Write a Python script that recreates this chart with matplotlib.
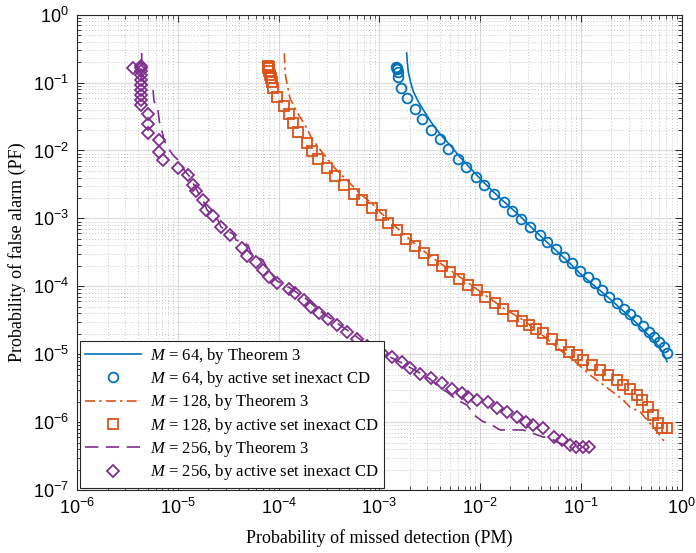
import numpy as np
import matplotlib
matplotlib.use("Agg")
import matplotlib.pyplot as plt
from matplotlib.ticker import FixedLocator, FuncFormatter, NullFormatter

plt.rcParams['mathtext.fontset'] = 'custom'
plt.rcParams['mathtext.rm'] = 'Liberation Serif'
plt.rcParams['mathtext.it'] = 'Liberation Serif:italic'

# values, stored as log10(PM) / log10(PF)
# M = 64
log_pm64_thm = [-2.729, -2.723, -2.713, -2.691, -2.661, -2.617, -2.557, -2.488, -2.398, -2.299,
                -2.200, -2.100, -2.001, -1.902, -1.803, -1.704, -1.604, -1.505, -1.405, -1.306,
                -1.207, -1.107, -1.008, -0.909, -0.809, -0.710, -0.611, -0.511, -0.412, -0.313,
                -0.233, -0.184, -0.144]
log_pf64_thm = [-0.564, -0.697, -0.844, -0.991, -1.138, -1.271, -1.418, -1.580, -1.757, -1.919,
                -2.096, -2.258, -2.412, -2.560, -2.700, -2.832, -2.965, -3.112, -3.252, -3.392,
                -3.524, -3.664, -3.812, -3.937, -4.062, -4.187, -4.320, -4.452, -4.592, -4.739,
                -4.872, -4.975, -5.108]
log_pm64_cd = [-2.835, -2.830, -2.828, -2.818, -2.812, -2.785, -2.723, -2.644, -2.574, -2.491,
               -2.398, -2.319, -2.216, -2.140, -2.041, -1.958, -1.862, -1.766, -1.683, -1.594,
               -1.504, -1.405, -1.333, -1.249, -1.167, -1.084, -1.008, -0.932, -0.859, -0.792,
               -0.720, -0.644, -0.571, -0.512, -0.452, -0.385, -0.323, -0.270, -0.223, -0.174,
               -0.141]
log_pf64_cd = [-0.765, -0.785, -0.800, -0.839, -0.913, -1.075, -1.231, -1.389, -1.536, -1.698,
               -1.835, -1.973, -2.130, -2.247, -2.395, -2.513, -2.645, -2.763, -2.887, -3.009,
               -3.131, -3.244, -3.352, -3.455, -3.564, -3.661, -3.770, -3.859, -3.956, -4.054,
               -4.153, -4.250, -4.339, -4.408, -4.496, -4.585, -4.669, -4.751, -4.825, -4.898,
               -4.978]

# M = 128
log_pm128_thm = [-3.944, -3.937, -3.921, -3.888, -3.821, -3.739, -3.672, -3.573, -3.441, -3.309,
                 -3.176, -3.076, -2.984, -2.825, -2.647, -2.471, -2.299, -2.117, -1.951, -1.770,
                 -1.587, -1.405, -1.207, -1.074, -0.909, -0.743, -0.578, -0.511, -0.412, -0.313,
                 -0.230, -0.164]
log_pf128_thm = [-0.568, -0.859, -0.987, -1.231, -1.429, -1.624, -1.820, -2.018, -2.262, -2.459,
                 -2.655, -2.778, -2.920, -3.141, -3.377, -3.583, -3.760, -3.951, -4.128, -4.320,
                 -4.482, -4.688, -4.938, -5.085, -5.306, -5.488, -5.675, -5.782, -5.847, -6.018,
                 -6.165, -6.303]
log_pm128_cd = [-4.105, -4.100, -4.103, -4.096, -4.086, -4.076, -4.070, -4.054, -4.014, -3.947,
                -3.898, -3.861, -3.805, -3.716, -3.666, -3.607, -3.523, -3.441, -3.352, -3.252,
                -3.176, -3.076, -2.984, -2.915, -2.825, -2.736, -2.647, -2.557, -2.471, -2.381,
                -2.299, -2.207, -2.117, -2.034, -1.951, -1.852, -1.770, -1.670, -1.587, -1.514,
                -1.440, -1.372, -1.289, -1.200, -1.117, -1.041, -0.975, -0.892, -0.809, -0.727,
                -0.644, -0.578, -0.511, -0.445, -0.395, -0.330, -0.280, -0.230, -0.197, -0.147]
log_pf128_cd = [-0.760, -0.770, -0.781, -0.829, -0.888, -0.937, -0.996, -1.084, -1.216, -1.345,
                -1.467, -1.591, -1.732, -1.885, -2.007, -2.125, -2.253, -2.376, -2.508, -2.641,
                -2.729, -2.851, -2.950, -3.068, -3.178, -3.308, -3.406, -3.514, -3.613, -3.701,
                -3.785, -3.897, -3.981, -4.055, -4.153, -4.250, -4.339, -4.437, -4.507, -4.577,
                -4.629, -4.692, -4.781, -4.864, -4.963, -5.012, -5.085, -5.159, -5.233, -5.306,
                -5.380, -5.454, -5.517, -5.601, -5.675, -5.773, -5.895, -6.009, -6.091, -6.091]

# M = 256
log_pm256_thm = [-5.360, -5.360, -5.308, -5.248, -5.238, -5.199, -5.184, -5.159, -5.139, -5.099,
                 -5.050, -4.980, -4.940, -4.881, -4.831, -4.791, -4.752, -4.712, -4.652, -4.603,
                 -4.573, -4.503, -4.454, -4.424, -4.354, -4.305, -4.275, -4.215, -4.156, -4.116,
                 -4.017, -3.888, -3.739, -3.590, -3.421, -3.222, -3.064, -2.875, -2.776, -2.597,
                 -2.498, -2.398, -2.329, -2.229, -2.130, -2.060, -1.981, -1.882, -1.802, -1.683,
                 -1.574, -1.485, -1.375, -1.306, -1.236, -1.157, -1.097]
log_pf256_thm = [-0.564, -0.932, -1.035, -1.109, -1.271, -1.404, -1.580, -1.713, -1.845, -1.963,
                 -2.066, -2.169, -2.287, -2.390, -2.538, -2.641, -2.729, -2.876, -2.965, -3.024,
                 -3.127, -3.186, -3.230, -3.318, -3.362, -3.392, -3.510, -3.569, -3.613, -3.730,
                 -3.922, -4.025, -4.172, -4.364, -4.541, -4.747, -4.923, -5.056, -5.130, -5.277,
                 -5.365, -5.498, -5.557, -5.675, -5.748, -5.895, -5.984, -6.043, -6.116, -6.116,
                 -6.116, -6.161, -6.219, -6.234, -6.293, -6.337, -6.352]
log_pm256_cd = [-5.450, -5.372, -5.372, -5.372, -5.372, -5.372, -5.372, -5.372, -5.372, -5.372,
                -5.372, -5.295, -5.295, -5.300, -5.191, -5.191, -5.146, -5.002, -4.898, -4.856,
                -4.821, -4.755, -4.722, -4.652, -4.576, -4.484, -4.369, -4.315, -4.230, -4.156,
                -4.096, -4.014, -3.895, -3.838, -3.749, -3.682, -3.597, -3.507, -3.424, -3.319,
                -3.225, -3.126, -3.061, -2.977, -2.878, -2.774, -2.696, -2.597, -2.491, -2.381,
                -2.282, -2.183, -2.117, -2.028, -1.919, -1.829, -1.730, -1.637, -1.544, -1.472,
                -1.372, -1.266, -1.190, -1.107, -1.048, -0.981, -0.916]
log_pf256_cd = [-0.781, -0.756, -0.789, -0.829, -0.888, -0.962, -1.035, -1.109, -1.183, -1.256,
                -1.330, -1.467, -1.614, -1.742, -1.845, -2.018, -2.133, -2.262, -2.368, -2.508,
                -2.596, -2.729, -2.869, -2.965, -3.122, -3.244, -3.429, -3.554, -3.642, -3.760,
                -3.863, -3.956, -4.044, -4.103, -4.202, -4.300, -4.398, -4.486, -4.570, -4.669,
                -4.781, -4.879, -4.948, -4.987, -5.037, -5.118, -5.208, -5.292, -5.355, -5.429,
                -5.517, -5.576, -5.626, -5.675, -5.700, -5.797, -5.847, -5.929, -5.994, -6.043,
                -6.091, -6.224, -6.264, -6.337, -6.362, -6.362, -6.362]

x_decades = [-6, -5, -4, -3, -2, -1, 0]
y_decades = [-7, -6, -5, -4, -3, -2, -1, 0]

labels = [r'$M$ = 64, by Theorem 3', r'$M$ = 64, by active set inexact CD',
          r'$M$ = 128, by Theorem 3', r'$M$ = 128, by active set inexact CD',
          r'$M$ = 256, by Theorem 3', r'$M$ = 256, by active set inexact CD']

blue = '#0072BD'
orange = '#D95319'
purple = '#7E2F8E'


def p(v):
    return 10.0 ** np.array(v)


def tick_label(v, pos):
    e = int(round(np.log10(v)))
    if e < 0:
        return r'$\mathregular{10^{-%d}}$' % (-e)
    return r'$\mathregular{10^{%d}}$' % e


fig = plt.figure(figsize=(6.96, 5.53), dpi=100)
ax = fig.add_axes([77.3 / 696, 1 - 490 / 553, (681.5 - 77.3) / 696, (490 - 14.7) / 553])

lw = 1.2
mew = 1.3
ax.plot(p(log_pm64_thm), p(log_pf64_thm), '-', color=blue, lw=lw, label=labels[0])
ax.plot(p(log_pm64_cd), p(log_pf64_cd), 'o', color=blue, mfc='none', mew=mew, ms=7, label=labels[1])
ax.plot(p(log_pm128_thm), p(log_pf128_thm), color=orange, lw=lw, dashes=(6, 2.5, 1.5, 2.5), label=labels[2])
ax.plot(p(log_pm128_cd), p(log_pf128_cd), 's', color=orange, mfc='none', mew=mew, ms=7.2, label=labels[3])
ax.plot(p(log_pm256_thm), p(log_pf256_thm), color=purple, lw=lw, dashes=(8, 4.5), label=labels[4])
ax.plot(p(log_pm256_cd), p(log_pf256_cd), 'D', color=purple, mfc='none', mew=mew, ms=5.9, label=labels[5])

ax.set_xscale('log')
ax.set_yscale('log')
ax.set_xlim(1e-6, 1)
ax.set_ylim(1e-7, 1)

for axis, dec in ((ax.xaxis, x_decades), (ax.yaxis, y_decades)):
    major = [10.0 ** d for d in dec]
    minor = [k * 10.0 ** d for d in dec[:-1] for k in range(2, 10)]
    axis.set_major_locator(FixedLocator(major))
    axis.set_minor_locator(FixedLocator(minor))
    axis.set_minor_formatter(NullFormatter())
    axis.set_major_formatter(FuncFormatter(tick_label))

ax.grid(True, which='major', color='#dcdcdc', lw=0.9, ls='-')
ax.grid(True, which='minor', color='#b4b4b4', lw=0.6, ls=(0, (1, 2.5)))
ax.set_axisbelow(True)

ax.tick_params(which='both', direction='in', top=True, right=True, color='#262626')
ax.tick_params(which='major', length=5, width=0.7, labelsize=13, pad=6)
ax.tick_params(which='minor', length=3, width=0.6)
for lab in ax.get_xticklabels() + ax.get_yticklabels():
    lab.set_fontfamily('Liberation Sans')
for s in ax.spines.values():
    s.set_color('#262626')
    s.set_linewidth(0.8)

ax.set_xlabel('Probability of missed detection (PM)', fontfamily='Liberation Serif', fontsize=13, labelpad=8)
ax.set_ylabel('Probability of false alarm (PF)', fontfamily='Liberation Serif', fontsize=13, labelpad=5)

leg = ax.legend(loc='lower left', prop={'family': 'Liberation Serif', 'size': 12},
                fancybox=False, framealpha=1, edgecolor='#262626', borderaxespad=0.15,
                handlelength=3.4, handletextpad=0.5, labelspacing=0.2, borderpad=0.3, numpoints=1)
leg.get_frame().set_linewidth(0.8)

fig.savefig('out.png', dpi=100)
